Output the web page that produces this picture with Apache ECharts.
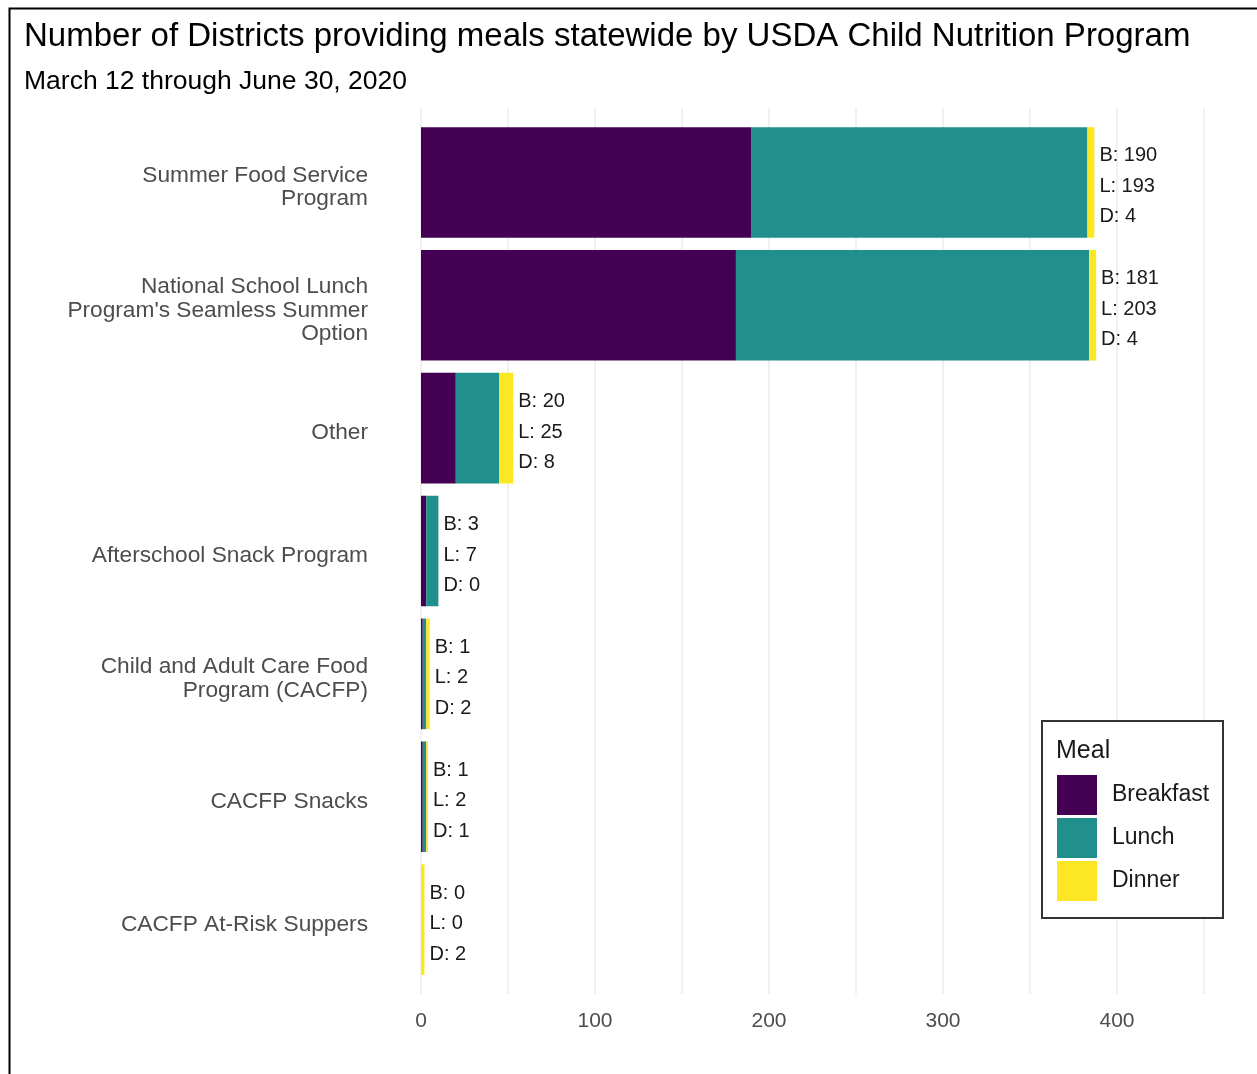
<!DOCTYPE html>
<html>
<head>
<meta charset="utf-8">
<script src="https://cdn.jsdelivr.net/npm/echarts@6/dist/echarts.min.js"></script>
<style>
html,body{margin:0;padding:0;background:#fff;}
#chart{width:1257px;height:1074px;}
</style>
</head>
<body>
<div id="chart"></div>
<script>
var categories = [
  'Summer Food Service\nProgram',
  "National School Lunch\nProgram's Seamless Summer\nOption",
  'Other',
  'Afterschool Snack Program',
  'Child and Adult Care Food\nProgram (CACFP)',
  'CACFP Snacks',
  'CACFP At-Risk Suppers'
];
var breakfast = [190, 181, 20, 3, 1, 1, 0];
var lunch     = [193, 203, 25, 7, 2, 2, 0];
var dinner    = [4, 4, 8, 0, 2, 1, 2];
var seriesNames = ['Breakfast', 'Lunch', 'Dinner'];
var xTicks = [0, 100, 200, 300, 400];

var FONT = '"Liberation Sans", Arial, sans-serif';
var colors = ['#440154', '#21908C', '#FDE725'];

var chart = echarts.init(document.getElementById('chart'), null, {renderer: 'canvas'});

var gridLeft = 421, xMax = 450, pxPerUnit = 1.74;
var gridWidth = xMax * pxPerUnit;
var gridRight = 1257 - gridLeft - gridWidth;

var option = {
  backgroundColor: '#ffffff',
  animation: false,
  textStyle: {fontFamily: FONT},
  grid: [
    {left: gridLeft, right: gridRight, top: 121, height: 860, containLabel: false},
    {left: gridLeft, right: gridRight, top: 108, height: 886, containLabel: false},
    {left: gridLeft, right: gridRight, top: 126, height: 860, containLabel: false}
  ],
  xAxis: [
    {
      type: 'value', gridIndex: 0, min: 0, max: xMax, interval: 50,
      axisLine: {show: false}, axisTick: {show: false},
      axisLabel: {show: false}, splitLine: {show: false}
    },
    {
      type: 'value', gridIndex: 1, min: 0, max: xMax, interval: 50,
      axisLine: {show: false}, axisTick: {show: false},
      axisLabel: {
        show: true, fontSize: 21, color: '#4d4d4d', margin: 17, fontFamily: FONT,
        formatter: function (v) { return xTicks.indexOf(v) >= 0 ? String(v) : ''; }
      },
      splitLine: {show: true, lineStyle: {color: '#ebebeb', width: 1.5}}
    },
    {
      type: 'value', gridIndex: 2, min: 0, max: xMax, interval: 50, show: false
    }
  ],
  yAxis: [
    {
      type: 'category', gridIndex: 0, data: categories, inverse: true,
      axisLine: {show: false}, axisTick: {show: false}, splitLine: {show: false},
      axisLabel: {show: false}
    },
    {
      type: 'category', gridIndex: 1, data: categories, inverse: true, show: false
    },
    {
      type: 'category', gridIndex: 2, data: categories, inverse: true,
      axisLine: {show: false}, axisTick: {show: false}, splitLine: {show: false},
      axisLabel: {fontSize: 22.7, color: '#4d4d4d', lineHeight: 23.5, margin: 53, align: 'right',
        fontFamily: FONT}
    }
  ],
  legend: {
    show: true,
    orient: 'vertical',
    left: 1057, top: 775,
    itemWidth: 40, itemHeight: 40, itemGap: 3,
    icon: 'rect',
    selectedMode: false,
    padding: 0,
    data: seriesNames,
    textStyle: {fontSize: 23, color: '#1a1a1a', fontFamily: FONT, padding: [0, 0, 0, 10]},
    z: 20
  },
  graphic: [
    {type: 'rect', left: 7, top: 6, z: 100,
      shape: {x: 0, y: 0, width: 1400, height: 1200},
      style: {fill: 'none', stroke: '#000', lineWidth: 2}},
    {type: 'text', x: 24, y: 36.5, z: 100,
      style: {text: 'Number of Districts providing meals statewide by USDA Child Nutrition Program',
        font: '33px ' + FONT, fill: '#000', verticalAlign: 'middle', textVerticalAlign: 'middle'}},
    {type: 'text', x: 24, y: 81.5, z: 100,
      style: {text: 'March 12 through June 30, 2020', font: '26.5px ' + FONT, fill: '#000',
        verticalAlign: 'middle', textVerticalAlign: 'middle'}},
    {type: 'rect', left: 1041, top: 720, z: 10,
      shape: {x: 0, y: 0, width: 181, height: 197},
      style: {fill: '#fff', stroke: '#333', lineWidth: 2}},
    {type: 'text', left: 1056, top: 739, z: 11,
      style: {text: 'Meal', font: '25px ' + FONT, fill: '#1a1a1a'}}
  ],
  series: [
    {name: 'Breakfast', type: 'bar', stack: 'meals', xAxisIndex: 0, yAxisIndex: 0,
      data: breakfast, barWidth: '90%', itemStyle: {color: colors[0]}},
    {name: 'Lunch', type: 'bar', stack: 'meals', xAxisIndex: 0, yAxisIndex: 0,
      data: lunch, barWidth: '90%', itemStyle: {color: colors[1]}},
    {name: 'Dinner', type: 'bar', stack: 'meals', xAxisIndex: 0, yAxisIndex: 0,
      data: dinner, barWidth: '90%', itemStyle: {color: colors[2]},
      label: {
        show: true, position: 'right', distance: 5, offset: [0, 4],
        fontSize: 20, lineHeight: 30.5, color: '#1a1a1a', fontFamily: FONT, align: 'left',
        formatter: function (p) {
          var i = p.dataIndex;
          return 'B: ' + breakfast[i] + '\nL: ' + lunch[i] + '\nD: ' + dinner[i];
        }
      }}
  ]
};
chart.setOption(option);
</script>
</body>
</html>
